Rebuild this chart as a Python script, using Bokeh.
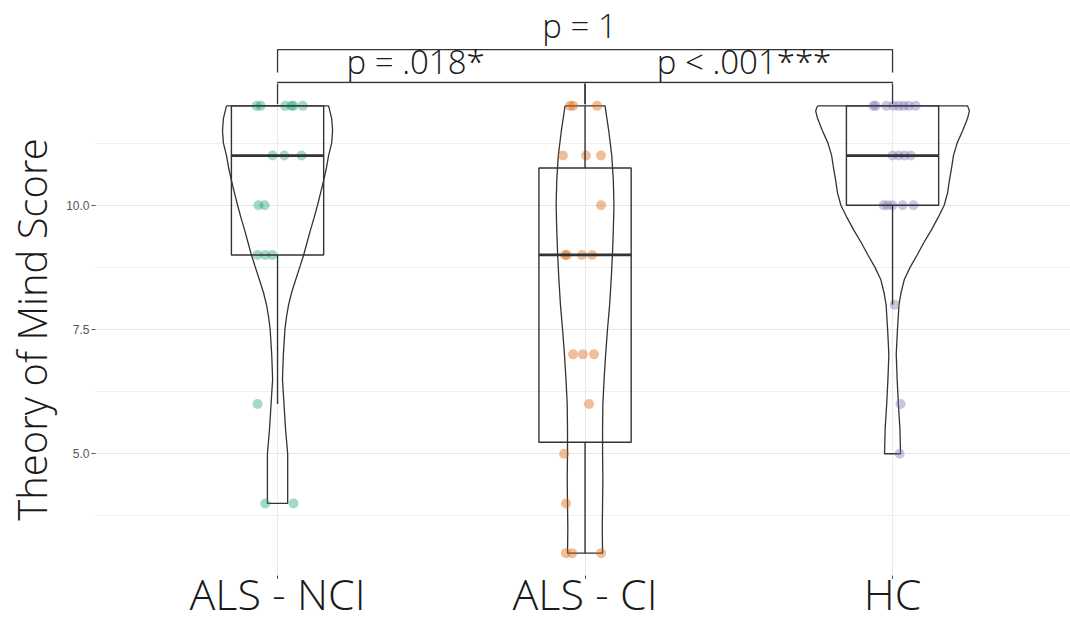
from bokeh.plotting import figure
from bokeh.layouts import column
from bokeh.models import FixedTicker, Range1d, PrintfTickFormatter
from bokeh.core.properties import value
from bokeh.embed import file_html
from bokeh.resources import INLINE

# ---------------- data ----------------
groups = ["ALS - NCI", "ALS - CI", "HC"]
group_pos = [1, 2, 3]
colors = ["#1b9e77", "#d95f02", "#7570b3"]

# jittered observations (score, horizontal jitter in category units)
nci_scores = [12, 12, 12, 12, 12, 12, 11, 11, 11, 10, 10, 9, 9, 9, 6, 4, 4]
nci_jitter = [-0.068, -0.055, 0.025, 0.045, 0.052, 0.082, -0.016, 0.022, 0.078,
              -0.062, -0.042, -0.065, -0.040, -0.017, -0.065, -0.040, 0.052]
ci_scores = [12, 12, 12, 11, 11, 11, 10, 9, 9, 9, 9, 7, 7, 7, 6, 5, 4, 3, 3, 3]
ci_jitter = [-0.049, -0.039, 0.039, -0.072, 0.003, 0.052, 0.052, -0.065, -0.059,
             -0.010, 0.023, -0.039, -0.007, 0.029, 0.013, -0.068, -0.062,
             -0.062, -0.042, 0.052]
hc_scores = [12, 12, 12, 12, 12, 12, 12, 12, 11, 11, 11, 11, 10, 10, 10, 10, 10, 8, 6, 5]
hc_jitter = [-0.062, -0.055, -0.020, 0.003, 0.020, 0.036, 0.052, 0.075,
             0.0, 0.020, 0.039, 0.059, -0.029, -0.016, 0.0, 0.033, 0.068,
             0.007, 0.026, 0.023]

# box statistics
box_low = [6, 3, 8]
box_q1 = [9, 5.23, 10]
box_med = [11, 9, 11]
box_q3 = [12, 10.75, 12]
box_high = [12, 12, 12]

# violin half-widths (category units) at score levels
nci_vy = [12.0, 11.75, 11.5, 11.25, 11.0, 10.75, 10.5, 10.25, 10.0, 9.75, 9.5, 9.25,
          9.0, 8.75, 8.5, 8.25, 8.0, 7.75, 7.5, 7.0, 6.5, 6.0, 5.5, 5.0, 4.5, 4.0]
nci_vw = [0.166, 0.176, 0.179, 0.176, 0.166, 0.159, 0.150, 0.140, 0.130, 0.119, 0.107,
          0.096, 0.085, 0.072, 0.059, 0.046, 0.036, 0.029, 0.024, 0.019, 0.016, 0.021,
          0.026, 0.033, 0.033, 0.033]
ci_vy = [12.0, 11.5, 11.0, 10.5, 10.0, 9.5, 9.0, 8.5, 8.0, 7.5, 7.0, 6.5, 6.0, 5.5,
         5.0, 4.5, 4.0, 3.5, 3.0]
ci_vw = [0.065, 0.077, 0.087, 0.092, 0.094, 0.092, 0.089, 0.085, 0.080, 0.073, 0.067,
         0.062, 0.058, 0.057, 0.057, 0.058, 0.057, 0.056, 0.057]
hc_vy = [12.0, 11.9, 11.75, 11.5, 11.25, 11.0, 10.75, 10.5, 10.25, 10.0, 9.75, 9.5,
         9.25, 9.0, 8.75, 8.5, 8.25, 8.0, 7.5, 7.0, 6.5, 6.0, 5.5, 5.0]
hc_vw = [0.244, 0.250, 0.244, 0.228, 0.210, 0.198, 0.192, 0.185, 0.179, 0.168, 0.148,
         0.126, 0.102, 0.080, 0.057, 0.038, 0.028, 0.021, 0.016, 0.012, 0.015, 0.019,
         0.024, 0.026]

# significance brackets
pair_a = [1, 2, 1]
pair_b = [2, 3, 3]
bracket_y = [12.47, 12.47, 13.13]
bracket_tip = [12.03, 12.03, 12.67]
label_x = [1.449, 2.517, 1.982]
label_y = [12.90, 12.90, 13.62]
p_labels = ["p = .018*", "p < .001***", "p = 1"]

y_major = [5.0, 7.5, 10.0]
y_minor = [3.75, 6.25, 8.75, 11.25]
y_lo, y_hi = 2.55, 12.45

# ---------------- layout sizes ----------------
W = 1070
LEFT = 95
TOP_H, MAIN_H, BOT_H, BOT_OVERLAP = 83, 496, 60, 17
TICK_H = 4
px_per_unit = (MAIN_H - TICK_H) / (y_hi - y_lo)

light = "Open Sans Light"
line_col = "#333333"
xr = Range1d(0.408, 0.408 + (W - LEFT) / 307.5)


def bare(height, yr, fill="white"):
    f = figure(width=W, height=height, output_backend="svg", toolbar_location=None,
               x_range=xr, y_range=yr, x_axis_type=None, y_axis_type=None,
               min_border_left=LEFT, min_border_right=0, min_border_top=0,
               min_border_bottom=0)
    f.outline_line_color = None
    f.background_fill_color = fill
    f.border_fill_color = fill
    return f


def draw_brackets(f):
    for a, b, yb, yt in zip(pair_a, pair_b, bracket_y, bracket_tip):
        f.line([a, a, b, b], [yt, yb, yb, yt], line_color=line_col, line_width=1.3)


# ---------------- top strip: significance annotations ----------------
top = bare(TOP_H, Range1d(y_hi, y_hi + TOP_H / px_per_unit))
draw_brackets(top)
top.text(x=label_x, y=label_y, text=p_labels, text_font=value(light),
         text_font_size="33px", text_align="center", text_baseline="middle",
         text_color="#1a1a1a")

# ---------------- main panel ----------------
p = figure(width=W, height=MAIN_H, output_backend="svg", toolbar_location=None,
           x_range=xr, y_range=Range1d(y_lo, y_hi),
           min_border_left=LEFT, min_border_right=0, min_border_top=0,
           min_border_bottom=TICK_H)
p.outline_line_color = None
p.background_fill_color = "white"

p.yaxis.ticker = FixedTicker(ticks=y_major, minor_ticks=y_minor)
p.yaxis.formatter = PrintfTickFormatter(format="%.1f")
p.yaxis.axis_line_color = None
p.yaxis.major_tick_line_color = "#555555"
p.yaxis.major_tick_in = 0
p.yaxis.major_tick_out = 4
p.yaxis.minor_tick_line_color = None
p.yaxis.major_label_text_font = "Liberation Sans"
p.yaxis.major_label_text_font_size = "12px"
p.yaxis.major_label_text_color = "#555555"
p.yaxis.major_label_standoff = 2
p.yaxis.axis_label = "Theory of Mind Score"
p.yaxis.axis_label_text_font = light
p.yaxis.axis_label_text_font_style = "normal"
p.yaxis.axis_label_text_font_size = "40px"
p.yaxis.axis_label_text_color = "#1a1a1a"
p.yaxis.axis_label_standoff = 4

p.xaxis.ticker = FixedTicker(ticks=group_pos)
p.xaxis.major_label_overrides = {i: "" for i in group_pos}
p.xaxis.major_label_text_font_size = "0px"
p.xaxis.major_label_standoff = 0
p.xaxis.axis_line_color = None
p.xaxis.major_tick_line_color = "#555555"
p.xaxis.major_tick_in = 0
p.xaxis.major_tick_out = TICK_H
p.xaxis.minor_tick_line_color = None

p.xgrid.grid_line_color = "#ebebeb"
p.xgrid.grid_line_width = 1
p.ygrid.grid_line_color = "#e6e6e6"
p.ygrid.grid_line_width = 1
p.ygrid.minor_grid_line_color = "#efefef"
p.ygrid.minor_grid_line_width = 1

# violins
for gx, vy, vw in [(1, nci_vy, nci_vw), (2, ci_vy, ci_vw), (3, hc_vy, hc_vw)]:
    xs = [gx - w for w in vw] + [gx + w for w in reversed(vw)]
    ys = list(vy) + list(reversed(vy))
    xs.append(xs[0])
    ys.append(ys[0])
    p.line(xs, ys, line_color=line_col, line_width=1.3)

# jittered points
for gx, sc, jt, col in [(1, nci_scores, nci_jitter, colors[0]),
                        (2, ci_scores, ci_jitter, colors[1]),
                        (3, hc_scores, hc_jitter, colors[2])]:
    p.scatter([gx + j for j in jt], sc, size=10, fill_color=col, fill_alpha=0.4,
              line_color=None)

# boxes
bw = 0.15
p.quad(left=[g - bw for g in group_pos], right=[g + bw for g in group_pos],
       bottom=box_q1, top=box_q3, fill_color=None, line_color=line_col, line_width=1.4)
p.segment(x0=[g - bw for g in group_pos], x1=[g + bw for g in group_pos],
          y0=box_med, y1=box_med, line_color=line_col, line_width=2.8)
p.segment(x0=group_pos, x1=group_pos, y0=box_q3, y1=box_high, line_color=line_col,
          line_width=1.4)
p.segment(x0=group_pos, x1=group_pos, y0=box_q1, y1=box_low, line_color=line_col,
          line_width=1.4)

draw_brackets(p)

# ---------------- bottom strip: category labels (transparent, overlaps tick area) ----
bot = bare(BOT_H, Range1d(0, BOT_H), fill=None)
bot.margin = (-BOT_OVERLAP, 0, 0, 0)
bot.text(x=group_pos, y=[29] * 3, text=groups, text_font=value(light),
         text_font_size="43px", text_align="center", text_baseline="middle",
         text_color="#1a1a1a")

layout = column(top, p, bot, spacing=0)
open("out.html", "w").write(file_html(layout, INLINE))
